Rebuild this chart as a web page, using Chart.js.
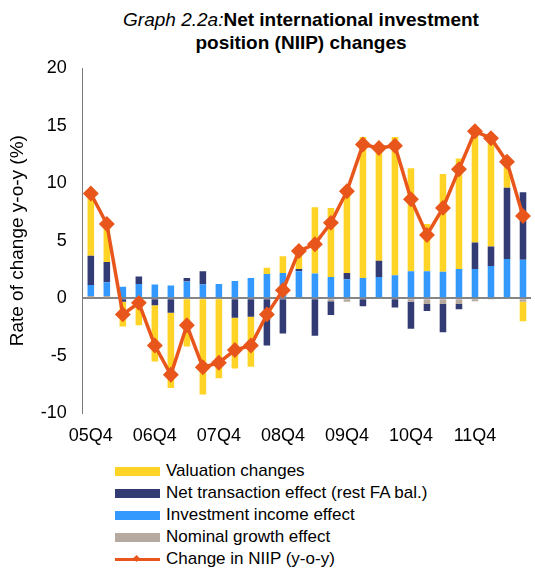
<!DOCTYPE html>
<html>
<head>
<meta charset="utf-8">
<script src="https://cdn.jsdelivr.net/npm/chart.js@4"></script>
<style>
  html, body { margin: 0; padding: 0; overflow: hidden; background: #fff; }
  body { width: 535px; height: 568px; position: relative; font-family: "Liberation Sans", Arial, sans-serif; }
  #wrap { position: absolute; left: 0; top: 0; width: 540px; height: 460px; }
  #title { position: absolute; left: 62px; width: 478px; top: 8px; text-align: center;
           font-size: 19px; line-height: 23px; font-weight: bold; color: #000; }
  #title i { font-weight: normal; }
  #legend { position: absolute; left: 115px; top: 460px; font-size: 17px; color: #000; }
  .row { height: 22px; line-height: 22px; display: flex; align-items: center; }
  .box { width: 45px; height: 9px; margin-right: 6px; }
  .ln { width: 45px; height: 3px; margin-right: 6px; position: relative; }
  .ln span { position: absolute; left: 19px; top: -2px; width: 5px; height: 5px; transform: rotate(45deg); }
</style>
</head>
<body>
<div id="title"><i>Graph 2.2a:</i>Net international investment<br>position (NIIP) changes</div>
<div id="wrap"><canvas id="chart"></canvas></div>
<div id="legend"></div>
<script>
'use strict';

// quarters 05Q4 .. 12Q3
const quarters = ['05Q4', '06Q1', '06Q2', '06Q3', '06Q4', '07Q1', '07Q2', '07Q3', '07Q4',
  '08Q1', '08Q2', '08Q3', '08Q4', '09Q1', '09Q2', '09Q3', '09Q4', '10Q1', '10Q2', '10Q3',
  '10Q4', '11Q1', '11Q2', '11Q3', '11Q4', '12Q1', '12Q2', '12Q3'];

// contributions, pp
const valuation = [5.4, 3.2, -2.15, -2.35, -4.9, -6.55, -4.2, -8.35, -6.95, -4.4, -4.35, 0.55, 1.45, 1.55,
  5.75, 6.0, 7.35, 12.25, 9.9, 12.0, 8.95, 4.1, 8.5, 9.6, 9.75, 9.3, 2.15, -1.7];
const netTransaction = [2.55, 1.75, -0.3, 0.65, -0.6, -1.25, 0.3, 1.15, 0, -1.7, -1.6, -4.1, -3.05, 0.2,
  -3.25, -1.2, 0.55, -0.7, 1.4, -0.8, -2.35, -0.6, -2.45, -0.45, 2.3, 1.7, 6.2, 5.85];
const investmentIncome = [0.95, 1.2, 1.0, 1.25, 1.2, 1.1, 1.45, 1.2, 1.25, 1.5, 1.75, 2.1, 2.2, 2.35,
  2.15, 1.85, 1.65, 1.75, 1.85, 2.0, 2.35, 2.35, 2.3, 2.55, 2.55, 2.8, 3.4, 3.35];
const nominalGrowth = [0.2, 0.2, 0, 0, 0, 0, 0, 0, 0, 0, 0, 0, 0, 0,
  0, -0.25, -0.3, 0, 0, 0, -0.3, -0.5, -0.5, -0.5, -0.25, -0.1, 0, -0.3];
const niipChange = [9.1, 6.45, -1.4, -0.4, -4.1, -6.65, -2.35, -6.0, -5.6, -4.5, -4.1, -1.4, 0.7, 4.1,
  4.7, 6.55, 9.3, 13.35, 13.05, 13.25, 8.6, 5.5, 7.85, 11.2, 14.5, 13.9, 11.85, 7.15];

const yTicks = [-10, -5, 0, 5, 10, 15, 20];

const tickFont = { family: '"Liberation Sans", Arial, sans-serif', size: 18 };
const titleFont = { family: '"Liberation Sans", Arial, sans-serif', size: 19 };

const bar = (label, data, color) => ({
  type: 'bar', label: label, data: data, backgroundColor: color,
  order: 1, stack: 's', barPercentage: 1, categoryPercentage: 0.41
});

const chart = new Chart(document.getElementById('chart'), {
  data: {
    labels: quarters,
    datasets: [
      bar('Nominal growth effect', nominalGrowth, '#B5A9A0'),
      bar('Investment income effect', investmentIncome, '#3399FF'),
      bar('Net transaction effect (rest FA bal.)', netTransaction, '#333B74'),
      bar('Valuation changes', valuation, '#FFD426'),
      {
        type: 'line', label: 'Change in NIIP (y-o-y)', data: niipChange, order: 0,
        borderColor: '#E8561C', backgroundColor: '#E8561C', borderWidth: 3.5,
        pointStyle: 'rectRot', pointRadius: 5.5, tension: 0
      }
    ]
  },
  options: {
    responsive: true,
    maintainAspectRatio: false,
    animation: false,
    layout: { padding: { top: 68, left: 0, right: 2, bottom: 1 } },
    plugins: {
      legend: { display: false },
      tooltip: { enabled: false }
    },
    scales: {
      x: {
        stacked: true,
        grid: { display: false, drawTicks: false },
        border: { display: false },
        ticks: {
          autoSkip: false, maxRotation: 0, padding: 12, color: '#000', font: tickFont,
          callback: (v, i) => (i % 4 === 0 ? quarters[i] : '')
        }
      },
      y: {
        stacked: true,
        min: -10, max: 20,
        afterBuildTicks: (s) => { s.ticks = yTicks.map(v => ({ value: v })); },
        grid: {
          drawTicks: false,
          color: (c) => (c.tick && c.tick.value === 0 ? '#858585' : 'rgba(0,0,0,0)'),
          lineWidth: 2
        },
        border: { display: true, color: '#7a7a7a', width: 1 },
        ticks: { padding: 16, color: '#000', font: tickFont },
        title: {
          display: true, text: 'Rate of change y-o-y (%)', color: '#000', font: titleFont,
          padding: { top: 6, bottom: -4 }
        }
      }
    }
  }
});

// one-item-per-row legend, same order as the original
const legendEl = document.getElementById('legend');
[3, 2, 1, 0, 4].forEach(i => {
  const ds = chart.data.datasets[i];
  const row = document.createElement('div');
  row.className = 'row';
  const mark = document.createElement('div');
  if (ds.type === 'line') {
    mark.className = 'ln';
    mark.style.background = ds.borderColor;
    const d = document.createElement('span');
    d.style.background = ds.borderColor;
    mark.appendChild(d);
  } else {
    mark.className = 'box';
    mark.style.background = ds.backgroundColor;
  }
  row.appendChild(mark);
  row.appendChild(document.createTextNode(ds.label));
  legendEl.appendChild(row);
});
</script>
</body>
</html>
